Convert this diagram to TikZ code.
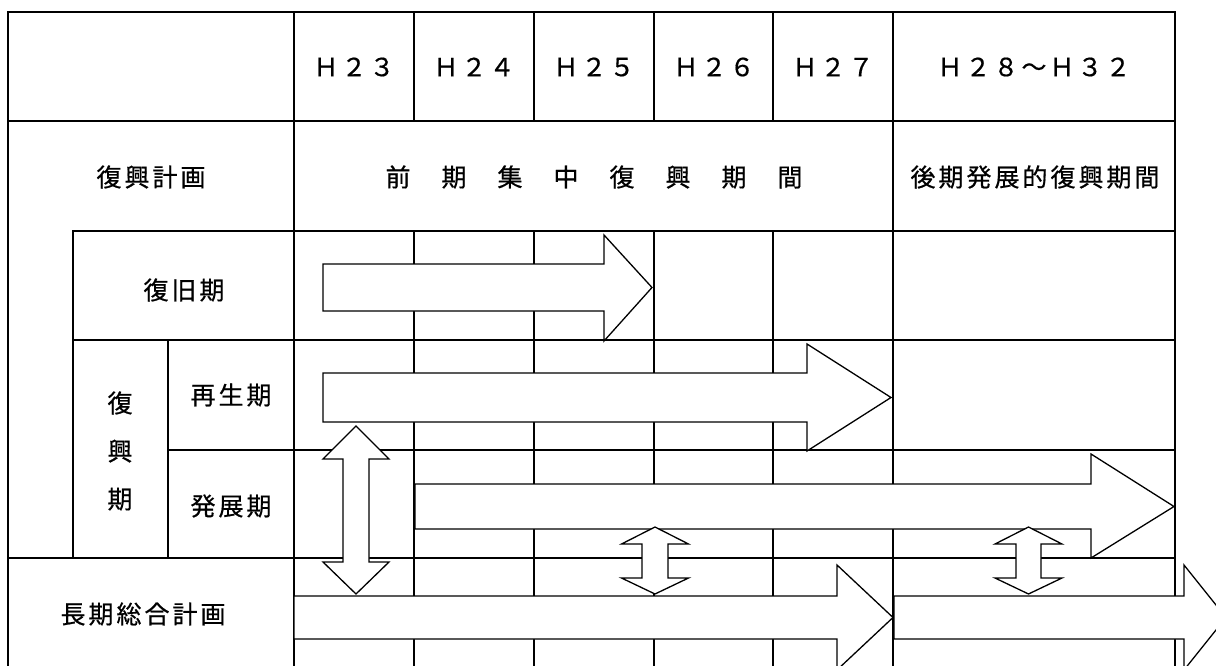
\documentclass[tikz,border=0pt]{standalone}
\usepackage{fontspec}
\newfontfamily\jp[LetterSpace=12,FakeBold=0.6]{Noto Sans CJK JP}
\newcommand\RArrow[7]{% x0, shaft top, shaft bottom, head x, head top, head bottom, tip x
  \draw[arr] (#1,#2) -- (#4,#2) -- (#4,#5) -- (#7,{(#2+#3)/2}) -- (#4,#6) -- (#4,#3) -- (#1,#3) -- cycle;}
\newcommand\VDArrow[7]{% cx, head half width, shaft half width, top tip, top base, bottom base, bottom tip
  \draw[arr] (#1,#4) -- ({#1+#2},#5) -- ({#1+#3},#5) -- ({#1+#3},#6) -- ({#1+#2},#6) -- (#1,#7)
    -- ({#1-#2},#6) -- ({#1-#3},#6) -- ({#1-#3},#5) -- ({#1-#2},#5) -- cycle;}
\tikzset{
  grid/.style={line width=2pt, line cap=rect},
  arr/.style={draw=black, fill=white, line width=1.3pt, line join=miter},
  lbl/.style={font=\jp\fontsize{25}{30}\selectfont, inner sep=0pt},
  vlbl/.style={font=\jp\fontsize{25}{48}\selectfont, inner sep=0pt, align=center}
}
\begin{document}
\begin{tikzpicture}[x=1pt,y=-1pt]
\useasboundingbox (0,0) rectangle (1216,666);
\clip (0,0) rectangle (1216,666);
% table lines
\draw[grid] (8,12) -- (1175,12);
\draw[grid] (8,121) -- (1175,121);
\draw[grid] (73,231) -- (1175,231);
\draw[grid] (73,340) -- (1175,340);
\draw[grid] (168,450) -- (1175,450);
\draw[grid] (8,558) -- (1175,558);
\draw[grid] (8,12) -- (8,690);
\draw[grid] (1175,12) -- (1175,690);
\draw[grid] (73,231) -- (73,558);
\draw[grid] (168,340) -- (168,558);
\draw[grid] (294,12) -- (294,690);
\draw[grid] (893,12) -- (893,690);
\foreach \x in {414,534,654,773}{
  \draw[grid] (\x,12) -- (\x,121);
  \draw[grid] (\x,231) -- (\x,690);
}
% texts
\node[lbl] (h23) at (354,67) {Ｈ２３};
\node[lbl] (h24) at (474,67) {Ｈ２４};
\node[lbl] (h25) at (594,67) {Ｈ２５};
\node[lbl] (h26) at (714,67) {Ｈ２６};
\node[lbl] (h27) at (833,67) {Ｈ２７};
\node[lbl] (h28) at (1034,67) {Ｈ２８～Ｈ３２};
\node[lbl] (plan) at (151,177) {復興計画};
\node[lbl] (zenki) at (594,177) {前　期　集　中　復　興　期　間};
\node[lbl] (kouki) at (1035,177) {後期発展的復興期間};
\node[lbl] (fukkyu) at (184,290) {復旧期};
\node[lbl] (saisei) at (231,395) {再生期};
\node[lbl] (hatten) at (231,506) {発展期};
\node[vlbl] (fukko) at (120,451) {復\\興\\期};
\node[lbl] (choki) at (143,614) {長期総合計画};
% single arrows
\RArrow{323}{264}{311}{604}{235}{341}{652}
\RArrow{323}{373}{422}{807}{344}{451}{891}
\RArrow{415}{484}{529}{1091}{454}{558}{1174}
\RArrow{294}{596}{639}{837}{565}{670}{893}
\RArrow{894}{596}{639}{1184}{565}{670}{1226}
% double arrows
\VDArrow{356}{33}{13}{426}{459}{562}{594}
\VDArrow{655}{33.5}{13}{527}{544}{578}{594}
\VDArrow{1028.5}{33.5}{12.5}{527}{544}{578}{594}
\end{tikzpicture}
\end{document}
